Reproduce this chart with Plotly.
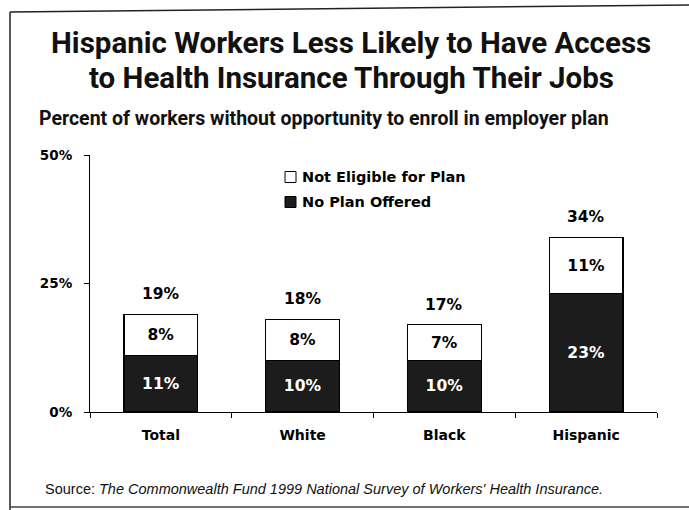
import plotly.graph_objects as go

# Data: percent of workers without opportunity to enroll in an employer plan
categories = ["Total", "White", "Black", "Hispanic"]
no_plan_offered = [11, 10, 10, 23]
not_eligible = [8, 8, 7, 11]
totals = [a + b for a, b in zip(no_plan_offered, not_eligible)]
y_tick_values = [0, 25, 50]
y_tick_labels = ["0%", "25%", "50%"]

W, H = 689, 510
ML, MR, MT, MB = 90, 32, 155, 98
PW, PH = W - ML - MR, H - MT - MB


def px_x(x):
    return (x - ML) / PW


def px_y(y):
    return (H - MB - y) / PH


DARK = "#1c1c1c"
LABEL_FONT = "DejaVu Sans"
HEAD_FONT = "Roboto"

fig = go.Figure()
fig.add_trace(go.Bar(
    x=categories, y=no_plan_offered, name="No Plan Offered",
    marker=dict(color=DARK, line=dict(color="black", width=1.2)),
    text=[f"{v}%" for v in no_plan_offered], textposition="inside",
    insidetextanchor="middle", textangle=0, constraintext="none",
    textfont=dict(family=LABEL_FONT, size=15.5, color="white", weight="bold"),
    width=0.52, showlegend=False, hoverinfo="skip",
))
fig.add_trace(go.Bar(
    x=categories, y=not_eligible, name="Not Eligible for Plan",
    marker=dict(color="white", line=dict(color="black", width=1.4)),
    text=[f"{v}%" for v in not_eligible], textposition="inside",
    insidetextanchor="middle", textangle=0, constraintext="none",
    textfont=dict(family=LABEL_FONT, size=15.5, color="black", weight="bold"),
    width=0.52, showlegend=False, hoverinfo="skip",
))

annotations = []
# Totals above each stacked bar
for c, t in zip(categories, totals):
    annotations.append(dict(
        x=c, y=t, xref="x", yref="y", text=f"{t}%", showarrow=False,
        yanchor="bottom", yshift=9,
        font=dict(family=LABEL_FONT, size=15.5, color="black", weight="bold"),
    ))

# Title, subtitle and source
annotations += [
    dict(x=px_x(351), y=px_y(43), xref="paper", yref="paper", showarrow=False,
         text="Hispanic Workers Less Likely to Have Access",
         xanchor="center", yanchor="middle",
         font=dict(family=HEAD_FONT, size=29.5, color="#111", weight="bold")),
    dict(x=px_x(351), y=px_y(78), xref="paper", yref="paper", showarrow=False,
         text="to Health Insurance Through Their Jobs",
         xanchor="center", yanchor="middle",
         font=dict(family=HEAD_FONT, size=29.5, color="#111", weight="bold")),
    dict(x=px_x(37), y=px_y(118), xref="paper", yref="paper", showarrow=False,
         text="Percent of workers without opportunity to enroll in employer plan",
         xanchor="left", yanchor="middle",
         font=dict(family=HEAD_FONT, size=19.5, color="#111", weight="bold")),
    dict(x=px_x(43), y=px_y(489), xref="paper", yref="paper", showarrow=False,
         text="Source: <i>The Commonwealth Fund 1999 National Survey of Workers' Health Insurance.</i>",
         xanchor="left", yanchor="middle",
         font=dict(family="Liberation Sans", size=14.5, color="#111")),
]

# Legend
legend_items = [("Not Eligible for Plan", "white", 177), ("No Plan Offered", DARK, 202)]
shapes = []
for label, color, yc in legend_items:
    shapes.append(dict(type="rect", xref="paper", yref="paper",
                       x0=px_x(285), x1=px_x(296), y0=px_y(yc - 5.5), y1=px_y(yc + 5.5),
                       fillcolor=color, line=dict(color="black", width=1)))
    annotations.append(dict(
        x=px_x(300), y=px_y(yc), xref="paper", yref="paper", showarrow=False,
        text=label, xanchor="left", yanchor="middle",
        font=dict(family=LABEL_FONT, size=14.5, color="black", weight="bold"),
    ))

# Page frame
frame = dict(color="#222", width=1.5)
shapes += [
    dict(type="line", xref="paper", yref="paper", x0=px_x(10), x1=px_x(10),
         y0=px_y(12), y1=px_y(510), line=frame),
    dict(type="line", xref="paper", yref="paper", x0=px_x(10), x1=px_x(689),
         y0=px_y(12), y1=px_y(5), line=frame),
    dict(type="line", xref="paper", yref="paper", x0=px_x(10), x1=px_x(689),
         y0=px_y(507), y1=px_y(507), line=dict(color="#444", width=1.5)),
]

fig.update_layout(
    width=W, height=H, margin=dict(l=ML, r=MR, t=MT, b=MB),
    paper_bgcolor="white", plot_bgcolor="white",
    barmode="stack", bargap=0.48,
    annotations=annotations, shapes=shapes,
    xaxis=dict(type="category", range=[-0.5, 3.5], showline=True,
               linecolor="black", linewidth=1.2, ticks="outside",
               tickson="boundaries", ticklen=5, tickcolor="black",
               showgrid=False, ticklabelstandoff=10,
               tickfont=dict(family=LABEL_FONT, size=14, color="black", weight="bold")),
    yaxis=dict(range=[0, 50], tickvals=y_tick_values, ticktext=y_tick_labels,
               showline=True, linecolor="black", linewidth=1.2,
               ticks="outside", ticklen=5, tickcolor="black",
               showgrid=False, zeroline=False, ticklabelstandoff=9,
               tickfont=dict(family=LABEL_FONT, size=13.5, color="black", weight="bold")),
)

fig.write_html("out.html")
